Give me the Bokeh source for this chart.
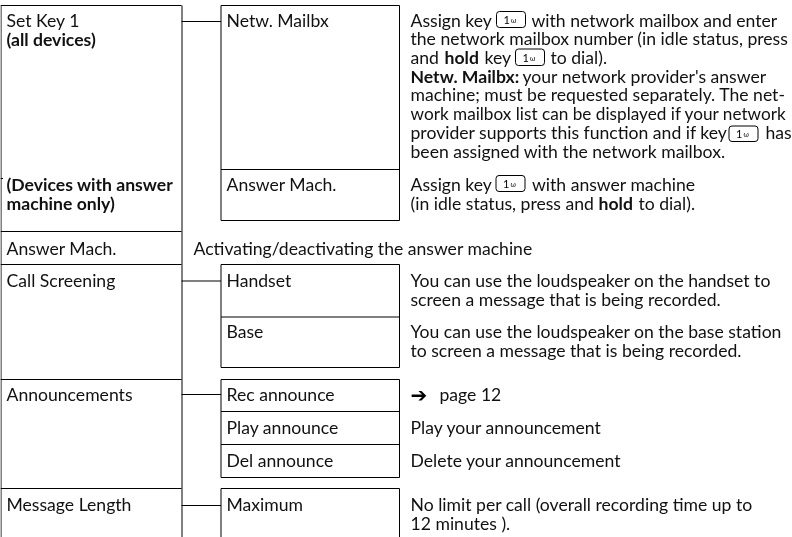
from bokeh.plotting import figure
from bokeh.models import Range1d
from bokeh.core.properties import value
from bokeh.embed import file_html
from bokeh.resources import INLINE

W, H = 792, 537
FONT = "Lato"
SIZE = "17.6px"
SIZE_TIGHT = "17.2px"
SHIFT = -7

# table rules
h_left = [(0, 181, y) for y in (5, 231, 264, 379, 488)] + [(0, 2.5, 178)]
h_mid = [(220.5, 399, y) for y in (5, 169, 220, 264, 316.5, 367, 379, 411, 444, 477, 488)]
h_conn = [(181, 220.5, y) for y in (21, 280.5, 394, 505)]
v_rules = [(0.5, 5, 537), (181.5, 5, 537), (220.5, 5, 220), (399, 5, 220),
           (220.5, 264, 367), (399, 264, 367), (220.5, 379, 477), (399, 379, 477),
           (220.5, 488, 537), (399, 488, 537)]

# regular text: x, baseline, string
regular = [
    (6, 26.5, "Set Key 1"), (6, 255, "Answer Mach."), (6, 287, "Call Screening"),
    (6, 401, "Announcements"), (6, 511, "Message Length"),
    (226, 26.5, "Netw. Mailbx"), (226, 191, "Answer Mach."), (226, 287, "Handset"),
    (226, 338, "Base"), (226, 401, "Rec announce"), (226, 434, "Play announce"),
    (226, 467, "Del announce"), (226, 511, "Maximum"),
    (193, 255, "Activating/deactivating the answer machine"),
    (410, 26.5, "Assign key"), (531, 26.5, "with network mailbox and enter"),
    (410, 45.2, "the network mailbox number (in idle status, press"),
    (410, 63.9, "and"), (484, 63.9, "key"), (550, 63.9, "to dial)."),
    (522, 82.6, "your network provider's answer"),
    (410, 101.4, "machine; must be requested separately. The net-"),
    (410, 138.8, "provider supports this function and if key"), (765, 138.8, "has"),
    (410, 157.5, "been assigned with the network mailbox."),
    (410, 190.7, "Assign key"), (531.5, 190.7, "with answer machine"),
    (410, 209.7, "(in idle status, press and"), (638, 209.7, "to dial)."),
    (410, 287, "You can use the loudspeaker on the handset to"),
    (410, 305.5, "screen a message that is being recorded."),
    (410, 338, "You can use the loudspeaker on the base station"),
    (410, 356.5, "to screen a message that is being recorded."),
    (439, 401, "page 12"), (410, 434, "Play your announcement"),
    (410, 467, "Delete your announcement"),
    (410, 511, "No limit per call (overall recording time up to"),
    (410, 529.5, "12 minutes )."),
]
tight = [(410, 120.1, "work mailbox list can be displayed if your network")]
bold = [
    (6, 45.5, "(all devices)"), (6, 191, "(Devices with answer"), (6, 209.7, "machine only)"),
    (444, 63.9, "hold"), (410, 82.6, "Netw. Mailbx:"), (598, 209.7, "hold"),
]
# key icons: left, right, top, bottom
keys = [(496, 525, 11, 27), (515, 544, 48.5, 65), (728.5, 757.5, 125.5, 141), (495.5, 524.5, 175, 191)]

p = figure(width=W, height=H, x_range=Range1d(0, W), y_range=Range1d(H, 0),
           toolbar_location=None, output_backend="svg", min_border=0,
           outline_line_color=None, background_fill_color="white", border_fill_color="white")
p.axis.visible = False
p.grid.visible = False
p.styles = {"position": "fixed", "left": "0px", "top": "0px"}

hs = h_left + h_mid + h_conn
p.segment([a for a, b, y in hs], [y for a, b, y in hs], [b for a, b, y in hs], [y for a, b, y in hs],
          line_color="black", line_width=1)
p.segment([x for x, a, b in v_rules], [a for x, a, b in v_rules], [x for x, a, b in v_rules],
          [b for x, a, b in v_rules], line_color="black", line_width=1)

def draw(rows, style, size=SIZE):
    p.text([r[0] for r in rows], [r[1] for r in rows], text=[r[2] for r in rows],
           text_font=value(FONT), text_font_size=size, text_font_style=style, y_offset=SHIFT,
           text_baseline="alphabetic", text_align="left", text_color="#111111")

draw(regular, "normal")
draw(tight, "normal", SIZE_TIGHT)
draw(bold, "bold")

p.quad(left=[k[0] for k in keys], right=[k[1] for k in keys], top=[k[2] for k in keys],
       bottom=[k[3] for k in keys], fill_color=None, line_color="black", line_width=1, border_radius=3)
p.text([k[0] + 7 for k in keys], [k[3] - 8 for k in keys], text=["1"] * 4, text_font=value(FONT),
       text_font_size="11px", text_baseline="alphabetic", text_color="black")
p.text([k[0] + 14.5 for k in keys], [k[3] - 7.5 for k in keys], text=["\u03c9"] * 4, text_font=value(FONT),
       text_font_size="7px", text_baseline="alphabetic", text_color="black")
p.text([410], [401.5], text=["\u2794"], text_font=value("DejaVu Sans"), text_font_size="20px", y_offset=SHIFT,
       text_baseline="alphabetic", text_color="black")

open("out.html", "w").write(file_html(p, INLINE))
